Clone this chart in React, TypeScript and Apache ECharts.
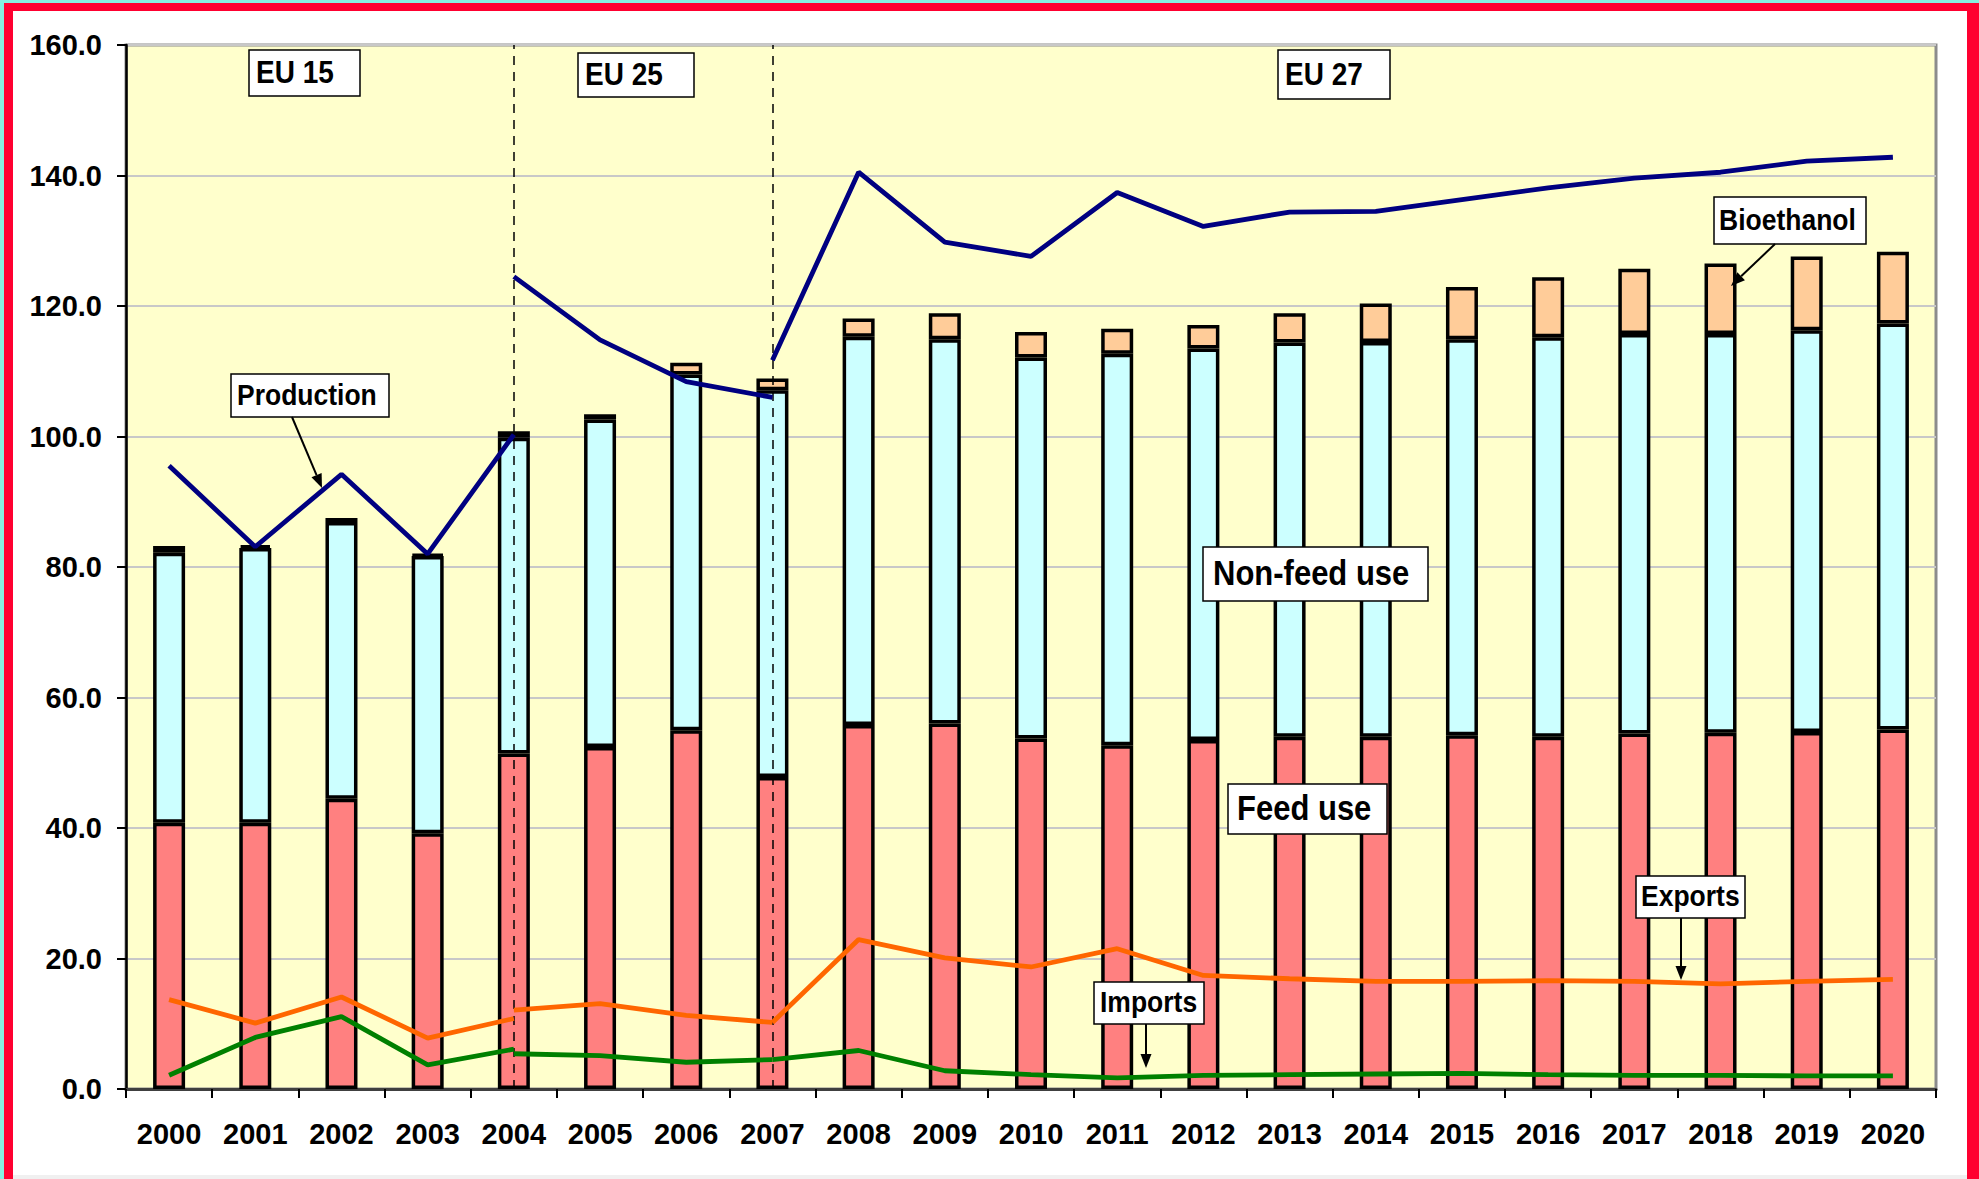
import React, { useEffect, useRef } from "react";
import * as echarts from "echarts";

const years = [
  "2000", "2001", "2002", "2003", "2004", "2005", "2006", "2007", "2008", "2009", "2010",
  "2011", "2012", "2013", "2014", "2015", "2016", "2017", "2018", "2019", "2020",
];

const feedUse = [40.8, 40.8, 44.5, 39.2, 51.4, 52.4, 55.0, 47.8, 55.8, 56.0, 53.7, 52.7, 53.5, 54.0, 54.0, 54.2, 54.0, 54.5, 54.6, 54.7, 55.1];
const nonFeedUse = [41.4, 42.1, 42.4, 42.5, 48.4, 50.2, 54.5, 59.3, 59.5, 58.9, 58.4, 60.0, 60.0, 60.4, 60.5, 60.7, 61.2, 61.2, 61.1, 61.6, 62.2];
const bioethanol = [1.0, 0.4, 0.6, 0.2, 1.0, 0.8, 1.8, 1.8, 2.8, 4.0, 3.9, 3.8, 3.6, 4.5, 5.9, 8.0, 9.2, 10.0, 10.8, 11.3, 11.0];

const productionEU15 = [95.5, 83.1, 94.2, 82.0, 100.3, null, null, null, null, null, null, null, null, null, null, null, null, null, null, null, null];
const productionEU25 = [null, null, null, null, 124.5, 114.8, 108.4, 106.0, null, null, null, null, null, null, null, null, null, null, null, null, null];
const productionEU27 = [null, null, null, null, null, null, null, 111.7, 140.5, 129.8, 127.6, 137.4, 132.2, 134.4, 134.5, 136.3, 138.1, 139.6, 140.5, 142.2, 142.8];

const exportsEU15 = [13.7, 10.1, 14.1, 7.8, 10.8, null, null, null, null, null, null, null, null, null, null, null, null, null, null, null, null];
const exportsEU25 = [null, null, null, null, 12.1, 13.1, 11.3, 10.2, null, null, null, null, null, null, null, null, null, null, null, null, null];
const exportsEU27 = [null, null, null, null, null, null, null, 10.2, 22.9, 20.1, 18.7, 21.5, 17.4, 16.9, 16.5, 16.5, 16.6, 16.5, 16.1, 16.5, 16.8];

const importsEU15 = [2.1, 7.9, 11.1, 3.7, 6.1, null, null, null, null, null, null, null, null, null, null, null, null, null, null, null, null];
const importsEU25 = [null, null, null, null, 5.4, 5.1, 4.1, 4.5, null, null, null, null, null, null, null, null, null, null, null, null, null];
const importsEU27 = [null, null, null, null, null, null, null, 4.5, 5.9, 2.8, 2.2, 1.7, 2.1, 2.2, 2.3, 2.4, 2.2, 2.1, 2.1, 2.0, 2.0];

const yTicks = { min: 0, max: 160, interval: 20 };
const dividerYears = ["2004", "2007"];

const FONT = "'Liberation Sans', Arial, sans-serif";

function box(x: number, y: number, w: number, h: number, text: string, fontSize: number, padLeft: number) {
  return {
    type: "group",
    z: 100,
    children: [
      {
        type: "rect",
        z: 100,
        shape: { x, y, width: w, height: h },
        style: { fill: "#ffffff", stroke: "#000000", lineWidth: 1.5 },
      },
      {
        type: "text",
        z: 101,
        x: x + padLeft,
        y: y + h / 2 - 1,
        scaleY: 1.12,
        originX: 0,
        originY: 0,
        style: {
          text,
          fill: "#000000",
          font: `bold ${fontSize}px ${FONT}`,
          textAlign: "left",
          textVerticalAlign: "middle",
        },
      },
    ],
  };
}

function arrow(x1: number, y1: number, x2: number, y2: number) {
  const dx = x2 - x1;
  const dy = y2 - y1;
  const len = Math.sqrt(dx * dx + dy * dy);
  const ux = dx / len;
  const uy = dy / len;
  const bx = x2 - ux * 14;
  const by = y2 - uy * 14;
  const px = -uy * 5.5;
  const py = ux * 5.5;
  return [
    {
      type: "line",
      z: 100,
      shape: { x1, y1, x2: bx, y2: by },
      style: { stroke: "#000000", lineWidth: 2 },
    },
    {
      type: "polygon",
      z: 100,
      shape: { points: [[x2, y2], [bx + px, by + py], [bx - px, by - py]] },
      style: { fill: "#000000" },
    },
  ];
}

function lineSeries(name: string, data: (number | null)[], color: string, width: number, extra: any = {}) {
  return {
    name,
    type: "line",
    data,
    showSymbol: false,
    symbol: "none",
    connectNulls: false,
    z: 5,
    lineStyle: { color, width },
    ...extra,
  };
}

export default function App() {
  const ref = useRef<HTMLDivElement>(null);

  useEffect(() => {
    if (!ref.current) return;
    const chart = echarts.init(ref.current, null, { renderer: "svg" });

    const barStyle = (color: string) => ({
      color,
      borderColor: "#000000",
      borderWidth: 3.5,
    });

    const option: any = {
      animation: false,
      backgroundColor: "#86efe0",
      grid: {
        left: 126,
        top: 45,
        width: 1810,
        height: 1044,
        show: true,
        backgroundColor: "#FFFFCC",
        borderColor: "#8c8c8c",
        borderWidth: 3,
      },
      xAxis: {
        type: "category",
        data: years,
        boundaryGap: true,
        axisLine: { show: true, lineStyle: { color: "#404040", width: 3 } },
        axisTick: { show: true, alignWithLabel: false, length: 9, lineStyle: { color: "#000", width: 2 } },
        axisLabel: {
          interval: 0,
          color: "#000",
          fontSize: 29,
          fontWeight: "bold",
          fontFamily: FONT,
          margin: 30,
        },
        splitLine: { show: false },
      },
      yAxis: {
        type: "value",
        min: yTicks.min,
        max: yTicks.max,
        interval: yTicks.interval,
        axisLine: { show: true, lineStyle: { color: "#000", width: 2.5 } },
        axisTick: { show: true, length: 9, lineStyle: { color: "#000", width: 2 } },
        axisLabel: {
          color: "#000",
          fontSize: 29,
          fontWeight: "bold",
          fontFamily: FONT,
          margin: 24,
          formatter: (v: number) => v.toFixed(1),
        },
        splitLine: { show: true, lineStyle: { color: "#c8c8c8", width: 2 } },
      },
      series: [
        { name: "Feed use", type: "bar", stack: "use", barWidth: 32, data: feedUse, itemStyle: barStyle("#FF8080"), z: 2 },
        { name: "Non-feed use", type: "bar", stack: "use", barWidth: 32, data: nonFeedUse, itemStyle: barStyle("#CCFFFF"), z: 2 },
        { name: "Bioethanol", type: "bar", stack: "use", barWidth: 32, data: bioethanol, itemStyle: barStyle("#FFCC99"), z: 2 },
        lineSeries("Production EU15", productionEU15, "#000080", 4.8),
        lineSeries("Production EU25", productionEU25, "#000080", 4.8),
        lineSeries("Production EU27", productionEU27, "#000080", 4.8),
        lineSeries("Exports EU15", exportsEU15, "#FF6600", 4.8),
        lineSeries("Exports EU25", exportsEU25, "#FF6600", 4.8),
        lineSeries("Exports EU27", exportsEU27, "#FF6600", 4.8),
        lineSeries("Imports EU15", importsEU15, "#008000", 4.8),
        lineSeries("Imports EU25", importsEU25, "#008000", 4.8),
        lineSeries("Imports EU27", importsEU27, "#008000", 4.8, {
          markLine: {
            silent: true,
            symbol: "none",
            label: { show: false },
            lineStyle: { color: "#000000", type: [9, 7], width: 1.5 },
            data: dividerYears.map((y) => ({ xAxis: y })),
          },
        }),
      ],
      graphic: [
        {
          type: "rect",
          z: -10,
          silent: true,
          shape: { x: 4, y: 3, width: 1975, height: 1176 },
          style: { fill: "#FF0030" },
        },
        {
          type: "rect",
          z: -9,
          silent: true,
          shape: { x: 13, y: 11, width: 1954, height: 1164 },
          style: { fill: "#ffffff" },
        },
        {
          type: "rect",
          z: -9,
          silent: true,
          shape: { x: 13, y: 1175, width: 1954, height: 4 },
          style: { fill: "#f0f0f0" },
        },
        box(249, 50, 111, 46, "EU 15", 28, 7),
        box(578, 53, 116, 44, "EU 25", 28, 7),
        box(1278, 50, 112, 49, "EU 27", 28, 7),
        box(231, 374, 158, 43, "Production", 26.5, 6),
        box(1203, 547, 225, 54, "Non-feed use", 31, 10),
        box(1228, 784, 159, 50, "Feed use", 31, 9),
        box(1714, 197, 152, 47, "Bioethanol", 26.5, 5),
        box(1094, 982, 110, 42, "Imports", 26.5, 6),
        box(1636, 876, 109, 42, "Exports", 26.5, 5),
        ...arrow(292, 417, 322, 488),
        ...arrow(1775, 244, 1731, 286),
        ...arrow(1146, 1024, 1146, 1068),
        ...arrow(1681, 918, 1681, 980),
      ],
    };

    chart.setOption(option);
    return () => {
      chart.dispose();
    };
  }, []);

  return (
    <div
      ref={ref}
      style={{ position: "absolute", left: 0, top: 0, width: 1979, height: 1179 }}
    />
  );
}
